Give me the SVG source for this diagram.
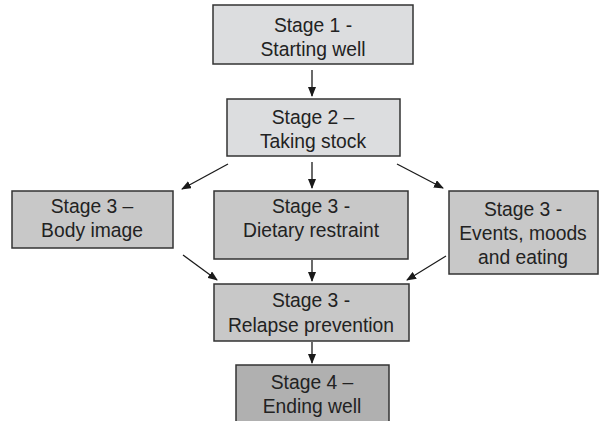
<svg xmlns="http://www.w3.org/2000/svg" width="600" height="421" viewBox="0 0 600 421">
<defs>
<marker id="ah" markerWidth="10" markerHeight="8" refX="9" refY="4" orient="auto" markerUnits="userSpaceOnUse">
<path d="M0,0 L10,4 L0,8 Z" fill="#1a1a1a"/>
</marker>
<style>
.box{stroke:#333;stroke-width:1.5}
.l1{fill:#dcdddf}
.l2{fill:#c8c8c8}
.l3{fill:#b0b0b0}
text{font-family:"Liberation Sans",Arial,sans-serif;font-size:19.3px;fill:#222;text-anchor:middle}
.c{stroke:#1a1a1a;stroke-width:1.3;fill:none;marker-end:url(#ah)}
</style>
</defs>
<rect width="600" height="421" fill="#fff"/>
<g id="connectors">
<line class="c" x1="312" y1="70" x2="312" y2="96"/>
<line class="c" x1="228" y1="164" x2="182" y2="189"/>
<line class="c" x1="312" y1="162" x2="312" y2="188"/>
<line class="c" x1="397" y1="164" x2="443" y2="188"/>
<line class="c" x1="183" y1="255" x2="217" y2="280"/>
<line class="c" x1="312" y1="260" x2="312" y2="281"/>
<line class="c" x1="446" y1="256" x2="407" y2="280"/>
<line class="c" x1="312" y1="342" x2="312" y2="363"/>
</g>
<g id="stage1">
<rect class="box l1" x="213" y="5" width="200" height="59"/>
<text x="313" y="32">Stage 1 -</text>
<text x="313" y="56">Starting well</text>
</g>
<g id="stage2">
<rect class="box l1" x="227" y="99" width="173" height="57"/>
<text x="313" y="124">Stage 2 –</text>
<text x="313" y="148">Taking stock</text>
</g>
<g id="body">
<rect class="box l2" x="12" y="191" width="161" height="57"/>
<text x="92" y="213">Stage 3 –</text>
<text x="92" y="237">Body image</text>
</g>
<g id="dietary">
<rect class="box l2" x="214" y="191" width="194" height="68"/>
<text x="311" y="213">Stage 3 -</text>
<text x="311" y="237">Dietary restraint</text>
</g>
<g id="events">
<rect class="box l2" x="449" y="191" width="149" height="83"/>
<text x="523" y="216">Stage 3 -</text>
<text x="523" y="240">Events, moods</text>
<text x="523" y="264">and eating</text>
</g>
<g id="relapse">
<rect class="box l2" x="214" y="284" width="195" height="57"/>
<text x="311" y="307">Stage 3 -</text>
<text x="311" y="332">Relapse prevention</text>
</g>
<g id="stage4">
<rect class="box l3" x="236" y="365" width="153" height="70"/>
<text x="312" y="389">Stage 4 –</text>
<text x="312" y="413">Ending well</text>
</g>
</svg>
